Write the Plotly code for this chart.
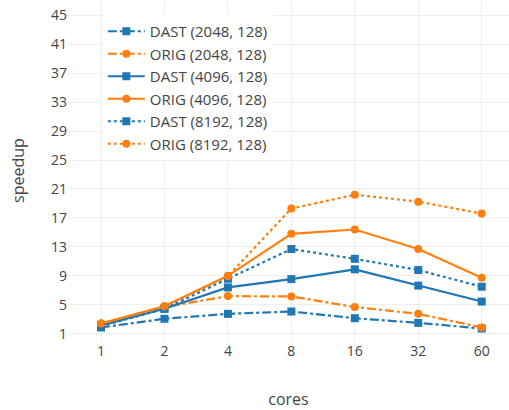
import plotly.graph_objects as go

cores = ["1", "2", "4", "8", "16", "32", "60"]

dast_2048 = [1.87, 3.07, 3.75, 4.07, 3.15, 2.5, 1.73]
orig_2048 = [2.4, 4.7, 6.2, 6.15, 4.7, 3.75, 1.87]
dast_4096 = [2.15, 4.45, 7.4, 8.55, 9.9, 7.65, 5.45]
orig_4096 = [2.4, 4.8, 9.0, 14.8, 15.4, 12.7, 8.75]
dast_8192 = [2.05, 4.45, 8.6, 12.7, 11.35, 9.8, 7.5]
orig_8192 = [2.42, 4.8, 8.95, 18.3, 20.2, 19.25, 17.6]

y_ticks = [1, 5, 9, 13, 17, 21, 25, 29, 33, 37, 41, 45]

BLUE = "#1f77b4"
ORANGE = "#ff7f0e"

series = [
    ("DAST (2048, 128)", dast_2048, BLUE, "dashdot", "square"),
    ("ORIG (2048, 128)", orig_2048, ORANGE, "dashdot", "circle"),
    ("DAST (4096, 128)", dast_4096, BLUE, "solid", "square"),
    ("ORIG (4096, 128)", orig_4096, ORANGE, "solid", "circle"),
    ("DAST (8192, 128)", dast_8192, BLUE, "dot", "square"),
    ("ORIG (8192, 128)", orig_8192, ORANGE, "dot", "circle"),
]

fig = go.Figure()
for name, vals, color, dash, sym in series:
    fig.add_trace(go.Scatter(
        x=cores, y=vals, name=name, mode="lines+markers",
        line=dict(color=color, width=2.2, dash=dash),
        marker=dict(color=color, size=8, symbol=sym),
    ))

fig.update_layout(
    width=509, height=410,
    margin=dict(l=68, r=0, t=0, b=68.5),
    paper_bgcolor="white", plot_bgcolor="white",
    font=dict(family="Open Sans, verdana, arial, sans-serif", size=14, color="#444"),
    legend=dict(x=0.079, y=0.956, xanchor="left", yanchor="top",
                bgcolor="white", font=dict(size=15), itemwidth=37),
    xaxis=dict(type="category", range=[-0.52, 6.43], showgrid=True,
               gridcolor="#eeeeee", zeroline=False, showline=False,
               title=dict(text="cores", font=dict(size=16), standoff=34)),
    yaxis=dict(range=[0, 47.1], tickvals=y_ticks, showgrid=True,
               gridcolor="#eeeeee", zeroline=False, showline=False,
               title=dict(text="speedup", font=dict(size=16), standoff=22)),
)

fig.write_html("out.html", config={"displayModeBar": False},
               post_script="document.body.style.margin='0';")
